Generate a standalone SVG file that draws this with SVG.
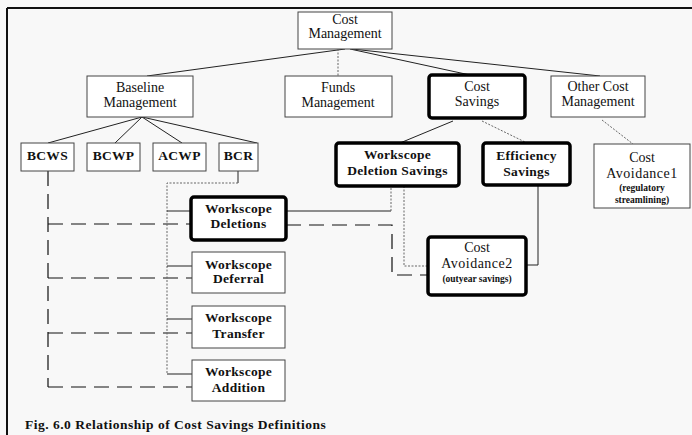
<svg xmlns="http://www.w3.org/2000/svg" width="692" height="435" viewBox="0 0 692 435">
<style>
text{font-family:"Liberation Serif","Times New Roman",serif;fill:#111;text-anchor:middle}
.t{font-size:14px}
.b{font-size:13.5px;font-weight:bold;letter-spacing:0.3px}
.s{font-size:9.5px;font-weight:bold}
.thin{fill:#fff;stroke:#444;stroke-width:1}
.thick{fill:#fff;stroke:#000;stroke-width:3.5}
.ln{fill:none;stroke:#222;stroke-width:1}
.dot{fill:none;stroke:#666;stroke-width:1;stroke-dasharray:2 1.5}
.dash{fill:none;stroke:#111;stroke-width:1.2;stroke-dasharray:15 8}
.cap{font-size:13.5px;font-weight:bold;text-anchor:start;letter-spacing:0.5px}
</style>
<rect width="692" height="435" fill="#f8f8f8"/>
<path d="M7 8 H692 M7 8 V435" fill="none" stroke="#111" stroke-width="2"/>

<g id="connectors">
<path class="ln" d="M345 49 L147 76 M350 49 L470 75 M352 49 L600 76"/>
<path class="dot" d="M338 49 V76"/>
<path class="ln" d="M142 117 L48 143 M142 117 L115 143 M142 117 L182 143 M142 117 L257 143"/>
<path class="ln" d="M453 121 L400 143"/>
<path class="dot" d="M482 121 L527 143 M602 120 L633 144"/>
<path class="dash" d="M48 171 V387"/>
<path class="dash" d="M48 224 H191 M48 278 H192 M48 333 H192 M48 387 H192"/>
<path class="ln" d="M238 171 V183"/>
<path class="dot" d="M238 183 H167 V374"/>
<path class="ln" d="M167 211 H191 M167 266 H192 M167 319 H192 M167 374 H192"/>
<path class="ln" d="M286 211 H391"/>
<path class="dot" d="M391 211 V186"/>
<path class="dash" d="M286 225 H392 V275 H428"/>
<path class="dot" d="M404 186 V266 H428"/>
<path class="ln" d="M538 185 V265 H526"/>
</g>

<g id="cost-management">
<rect class="thin" x="298" y="12" width="94" height="37"/>
<text class="t" x="345" y="24">Cost</text>
<text class="t" x="345" y="38">Management</text>
</g>
<g id="baseline-management">
<rect class="thin" x="87" y="76" width="106" height="41"/>
<text class="t" x="140" y="92">Baseline</text>
<text class="t" x="140" y="107">Management</text>
</g>
<g id="funds-management">
<rect class="thin" x="285" y="76" width="107" height="41"/>
<text class="t" x="338" y="92">Funds</text>
<text class="t" x="338" y="107">Management</text>
</g>
<g id="cost-savings">
<rect class="thick" x="429" y="75" width="96" height="43" rx="3"/>
<text class="t" x="477" y="91">Cost</text>
<text class="t" x="477" y="106">Savings</text>
</g>
<g id="other-cost-management">
<rect class="thin" x="551" y="76" width="94" height="41"/>
<text class="t" x="598" y="91">Other Cost</text>
<text class="t" x="598" y="106">Management</text>
</g>

<g id="bcws"><rect class="thin" x="21" y="143" width="53" height="28"/><text class="b" x="47.5" y="160">BCWS</text></g>
<g id="bcwp"><rect class="thin" x="87" y="143" width="53" height="28"/><text class="b" x="113.5" y="160">BCWP</text></g>
<g id="acwp"><rect class="thin" x="153" y="143" width="53" height="28"/><text class="b" x="179.5" y="160">ACWP</text></g>
<g id="bcr"><rect class="thin" x="219" y="143" width="39" height="28"/><text class="b" x="238.5" y="160">BCR</text></g>

<g id="workscope-deletion-savings">
<rect class="thick" x="336" y="143" width="123" height="43" rx="3"/>
<text class="b" x="397.5" y="159">Workscope</text>
<text class="b" x="397.5" y="175">Deletion Savings</text>
</g>
<g id="efficiency-savings">
<rect class="thick" x="483" y="143" width="87" height="42" rx="3"/>
<text class="b" x="526.5" y="160">Efficiency</text>
<text class="b" x="526.5" y="176">Savings</text>
</g>
<g id="cost-avoidance1">
<rect class="thin" x="594" y="144" width="96" height="64"/>
<text class="t" x="642" y="162">Cost</text>
<text class="t" x="642" y="178" style="letter-spacing:0.5px">Avoidance1</text>
<text class="s" x="642" y="191">(regulatory</text>
<text class="s" x="642" y="203">streamlining)</text>
</g>

<g id="workscope-deletions">
<rect class="thick" x="191" y="197" width="95" height="43" rx="3"/>
<text class="b" x="238.5" y="213">Workscope</text>
<text class="b" x="238.5" y="228">Deletions</text>
</g>
<g id="cost-avoidance2">
<rect class="thick" x="428" y="237" width="98" height="58" rx="3"/>
<text class="t" x="477" y="252">Cost</text>
<text class="t" x="477" y="268" style="letter-spacing:0.5px">Avoidance2</text>
<text class="s" x="477" y="282">(outyear savings)</text>
</g>
<g id="workscope-deferral">
<rect class="thin" x="192" y="252" width="93" height="41"/>
<text class="b" x="238.5" y="269">Workscope</text>
<text class="b" x="238.5" y="283">Deferral</text>
</g>
<g id="workscope-transfer">
<rect class="thin" x="192" y="306" width="93" height="42"/>
<text class="b" x="238.5" y="322">Workscope</text>
<text class="b" x="238.5" y="338">Transfer</text>
</g>
<g id="workscope-addition">
<rect class="thin" x="192" y="360" width="93" height="41"/>
<text class="b" x="238.5" y="376">Workscope</text>
<text class="b" x="238.5" y="392">Addition</text>
</g>

<text class="cap" x="25" y="429">Fig. 6.0 Relationship of Cost Savings Definitions</text>
</svg>
